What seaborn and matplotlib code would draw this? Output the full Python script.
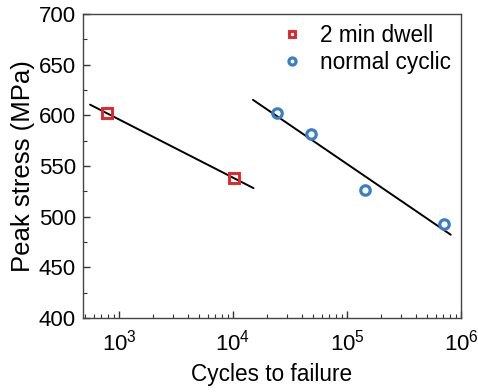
import numpy as np
import pandas as pd
import matplotlib
matplotlib.use("Agg")
import matplotlib.pyplot as plt
import seaborn as sns

dwell_cycles = [785, 10200]
dwell_stress = [602, 538]
cyclic_cycles = [24100, 47900, 144000, 710000]
cyclic_stress = [602, 581.5, 526, 493]

sns.set_theme(style="white")
plt.rcParams['font.family'] = ['Liberation Sans', 'DejaVu Sans']
plt.rcParams['mathtext.fontset'] = 'custom'
plt.rcParams['mathtext.rm'] = 'Liberation Sans'
plt.rcParams['mathtext.it'] = 'Liberation Sans'
plt.rcParams['text.color'] = 'black'
plt.rcParams['axes.labelcolor'] = 'black'

fig = plt.figure(figsize=(4.78, 3.92), dpi=100)
ax = fig.add_axes([83/478, 1-318/392, (461-83)/478, (318-14)/392])

def fit_line(xs, ys, lo, hi):
    lx = np.log10(xs)
    k, b = np.polyfit(lx, ys, 1)
    gx = np.linspace(lo, hi, 50)
    return pd.DataFrame({"x": 10**gx, "y": k*gx + b})

f1 = fit_line(dwell_cycles, dwell_stress, 2.746, 4.18)
f2 = fit_line(cyclic_cycles, cyclic_stress, 4.175, 5.91)
sns.lineplot(data=f1, x="x", y="y", color="black", lw=1.4, ax=ax, legend=False)
sns.lineplot(data=f2, x="x", y="y", color="black", lw=1.4, ax=ax, legend=False)

red = "#e3252b"
blue = "#3a7fc6"
d1 = pd.DataFrame({"x": dwell_cycles, "y": dwell_stress})
d2 = pd.DataFrame({"x": cyclic_cycles, "y": cyclic_stress})
ax.plot(d1.x, d1.y, ls="none", marker="s", ms=6.6, mfc="none", mec=red, mew=2.1, label="2 min dwell", zorder=3)
ax.plot(d2.x, d2.y, ls="none", marker="o", ms=6.8, mfc="none", mec=blue, mew=2.3, label="normal cyclic", zorder=3)

ax.set_xscale("log")
ax.set_xlim(483, 1e6)
ax.set_ylim(400, 700)
ax.set_yticks(np.arange(400, 701, 50))
ax.set_yticks(np.arange(425, 700, 50), minor=True)
ax.tick_params(which="both", direction="in", top=False, right=False, colors="#333333", labelcolor="black")
ax.tick_params(which="major", length=5, width=1, labelsize=16, bottom=True, left=True)
ax.tick_params(which="minor", length=3, width=0.8, bottom=True, left=True)
ax.tick_params(axis="x", pad=8)
ax.tick_params(axis="y", pad=5)
for s in ax.spines.values():
    s.set_color("#444444")
    s.set_linewidth(1.0)
ax.set_xlabel("Cycles to failure", fontsize=16.3, labelpad=6, color="black")
ax.set_ylabel("Peak stress (MPa)", fontsize=18.5, labelpad=3, color="black")
leg = ax.legend(loc="upper right", frameon=False, fontsize=16.3, handletextpad=0.75,
                borderaxespad=0.15, labelspacing=0.15, handlelength=1.0, markerscale=0.75,
                borderpad=0.3, labelcolor="black")
fig.savefig("out.png", dpi=100)
